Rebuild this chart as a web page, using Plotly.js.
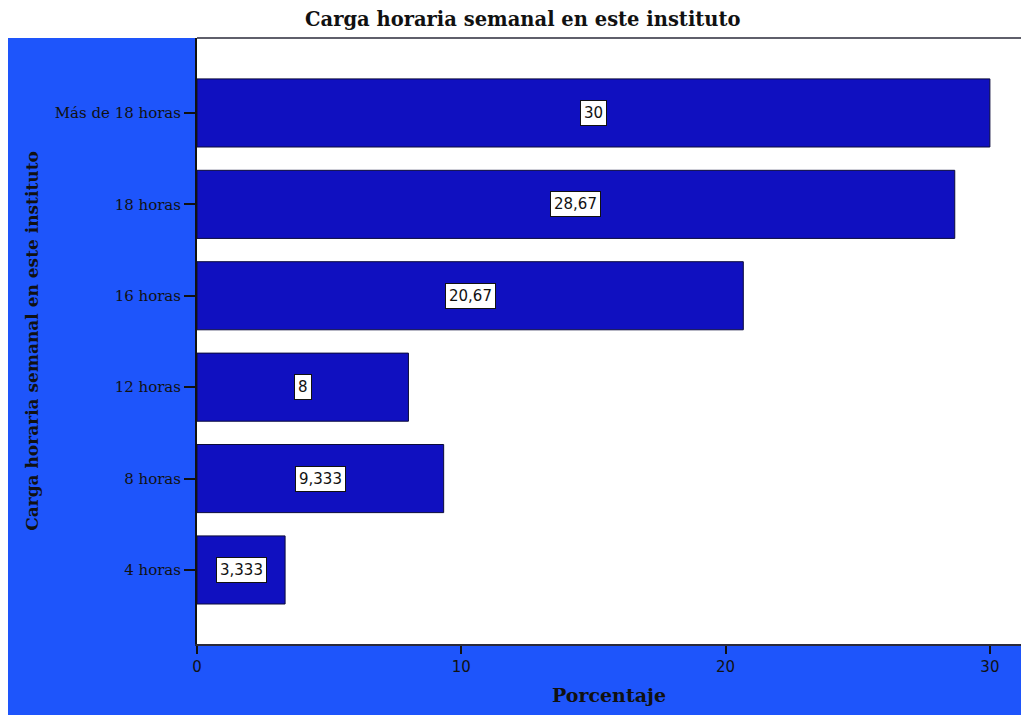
<!DOCTYPE html>
<html>
<head>
<meta charset="utf-8">
<script src="https://cdn.plot.ly/plotly-3.0.1.min.js"></script>
<style>
  html, body { margin: 0; padding: 0; background: #ffffff; }
  #chart { width: 1021px; height: 715px; }
</style>
</head>
<body>
<div id="chart"></div>
<script>
// Weekly teaching load at this institute (percentage of respondents)
const categories = ['4 horas', '8 horas', '12 horas', '16 horas', '18 horas', 'Más de 18 horas'];
const percentages = [3.333, 9.333, 8, 20.67, 28.67, 30];
const xTickValues = [0, 10, 20, 30];

const W = 1021, H = 715;
const M = { l: 197, r: 0, t: 38, b: 71 };
const plotW = W - M.l - M.r;
const plotH = H - M.t - M.b;

const serif = '"DejaVu Serif", "Liberation Serif", serif';
const sans = '"DejaVu Sans", "Liberation Sans", sans-serif';

const bars = {
  type: 'bar',
  orientation: 'h',
  x: percentages,
  y: categories,
  width: 0.745,
  marker: { color: '#1010c0', line: { color: '#0a0a3a', width: 1 } },
  hoverinfo: 'x+y'
};

// value boxes placed at the middle of each bar
const annotations = categories.map((c, i) => ({
  x: percentages[i] / 2,
  y: c,
  xref: 'x', yref: 'y',
  text: String(percentages[i]).replace('.', ','),
  showarrow: false,
  font: { family: sans, size: 15, color: '#111111' },
  bgcolor: '#ffffff',
  bordercolor: '#111111',
  borderwidth: 1,
  borderpad: 3
}));

const shapes = [
  // blue surround behind the axes
  {
    type: 'rect', xref: 'paper', yref: 'paper', layer: 'below',
    x0: (8 - M.l) / plotW, x1: 1,
    y0: -M.b / plotH, y1: 1,
    fillcolor: '#1e55fb', line: { width: 0 }
  },
  // white plotting area
  {
    type: 'rect', xref: 'paper', yref: 'paper', layer: 'below',
    x0: 0, x1: 1, y0: 0, y1: 1,
    fillcolor: '#ffffff', line: { width: 0 }
  },
  // top frame line
  {
    type: 'line', xref: 'paper', yref: 'paper',
    x0: 0, x1: 1, y0: 1, y1: 1,
    line: { color: '#2a2a3a', width: 1.5 }
  }
];

const layout = {
  width: W, height: H,
  margin: M,
  paper_bgcolor: 'rgba(0,0,0,0)',
  plot_bgcolor: 'rgba(0,0,0,0)',
  showlegend: false,
  title: {
    text: '<b>Carga horaria semanal en este instituto</b>',
    font: { family: serif, size: 19.5, color: '#111111' },
    xref: 'container', x: 0.512, xanchor: 'center',
    yref: 'container', y: 0.973, yanchor: 'middle'
  },
  xaxis: {
    range: [0, plotW / 26.43],
    tickvals: xTickValues,
    ticktext: xTickValues.map(String),
    ticks: 'outside', ticklen: 8, tickwidth: 1.5, tickcolor: '#111111',
    tickfont: { family: sans, size: 15, color: '#111111' },
    showgrid: false, zeroline: false,
    showline: true, linecolor: '#2a2a3a', linewidth: 2,
    title: {
      text: '<b>Porcentaje</b>',
      font: { family: serif, size: 19, color: '#111111' },
      standoff: 14
    }
  },
  yaxis: {
    type: 'category',
    categoryorder: 'array', categoryarray: categories,
    range: [-0.81, 5.82],
    ticks: 'outside', ticklen: 11, tickwidth: 1.5, tickcolor: '#111111',
    tickfont: { family: serif, size: 15, color: '#111111' },
    showgrid: false, zeroline: false,
    showline: true, linecolor: '#111111', linewidth: 2,
    title: {
      text: '<b>Carga horaria semanal en este instituto</b>',
      font: { family: serif, size: 17, color: '#111111' },
      standoff: 12
    }
  },
  annotations: annotations,
  shapes: shapes
};

Plotly.newPlot('chart', [bars], layout, { displayModeBar: false, responsive: false });
</script>
</body>
</html>
